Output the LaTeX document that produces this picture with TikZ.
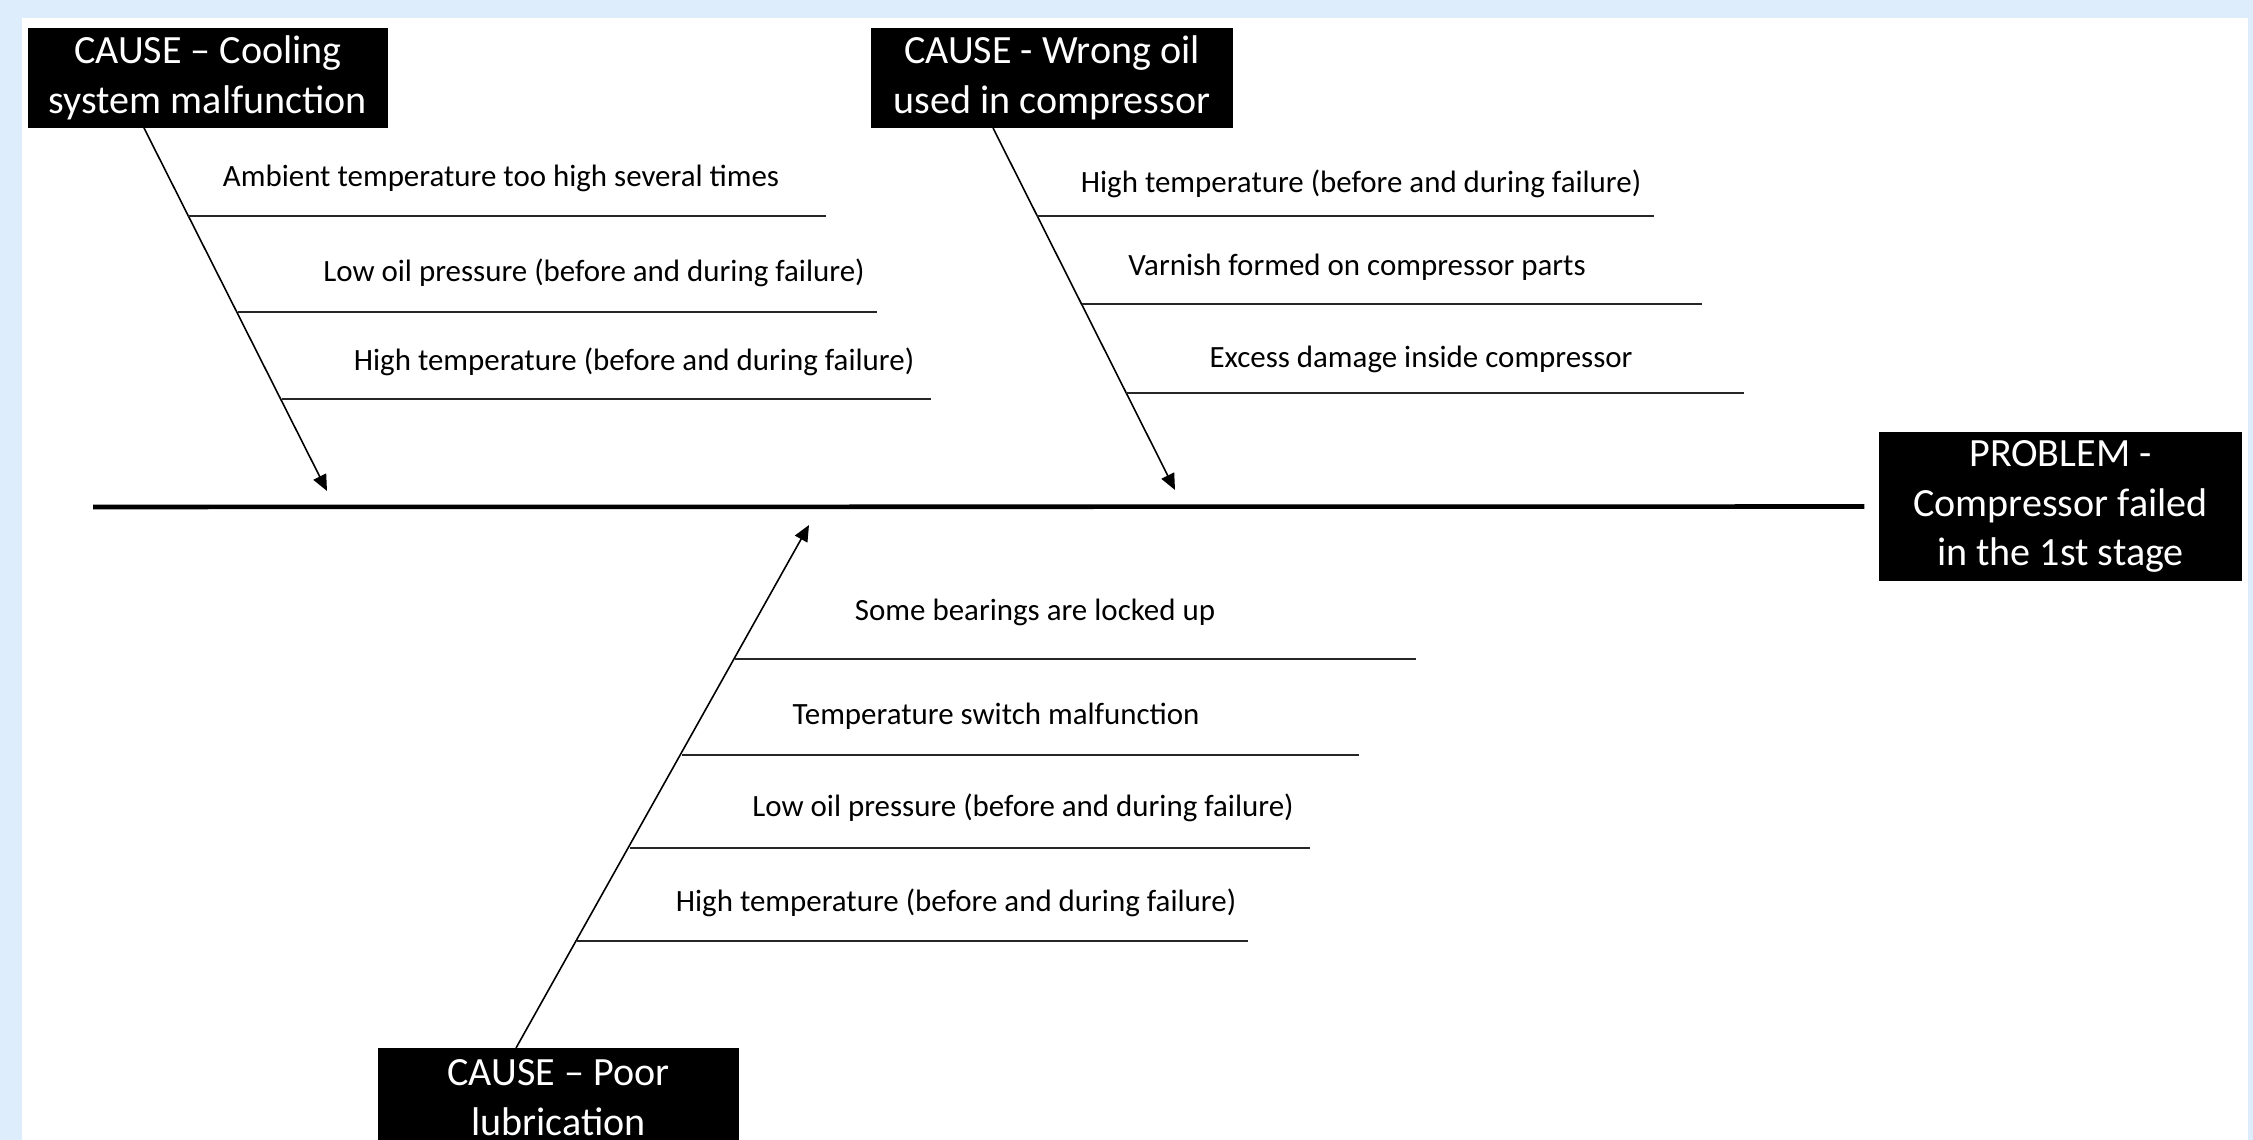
\documentclass[tikz,border=0pt]{standalone}
\usepackage{fontspec}
\setmainfont{Carlito}
\usetikzlibrary{arrows.meta}
\definecolor{paleblue}{RGB}{221,237,252}
\begin{document}
\begin{tikzpicture}[x=0.1mm, y=-0.1mm,
  headbox/.style={fill=black, text=white, align=center, inner sep=0pt,
    font=\fontsize{11.4}{14.2}\selectfont},
  cause/.style={font=\fontsize{8.8}{10.6}\selectfont, inner sep=0pt},
  rib/.style={line width=0.5pt, draw=black!85},
  bone/.style={line width=0.45pt, -{Triangle[length=4.6pt,width=4pt]}}]
% Background
\fill[paleblue] (0,0) rectangle (2253,1140);
\fill[white] (22,18) rectangle (2248,1140);
\useasboundingbox (0,0) rectangle (2253,1140);

% Heads
\node[headbox, minimum width=36mm, minimum height=10mm] (cool) at (208,78) {CAUSE -- Cooling\\system malfunction};
\node[headbox, minimum width=36.2mm, minimum height=10mm] (oil) at (1052,78) {CAUSE - Wrong oil\\used in compressor};
\node[headbox, minimum width=36.1mm, minimum height=10mm] (lube) at (558.5,1098) {CAUSE -- Poor\\lubrication};
\node[headbox, minimum width=36.3mm, minimum height=14.9mm] (prob) at (2060.5,506.5) {PROBLEM -\\Compressor failed\\in the 1st stage};

% Spine
\coordinate (tail) at (93,507);
\draw[line width=1.3pt] (tail) -- ([xshift=-1.4mm]prob.west);

% Bones
\coordinate (coolfoot) at (144,128);
\coordinate (cooltip) at (327,491);
\coordinate (oilfoot) at (993,128);
\coordinate (oiltip) at (1175,490);
\coordinate (lubefoot) at (516,1048);
\coordinate (lubetip) at (809,525);
\draw[bone] (coolfoot) -- (cooltip);
\draw[bone] (oilfoot) -- (oiltip);
\draw[bone] (lubefoot) -- (lubetip);

% Ribs - cooling
\draw[rib] (188,216) -- (826,216);
\draw[rib] (238,312) -- (877,312);
\draw[rib] (282,399) -- (931,399);
\node[cause] (c1) at (501,178) {Ambient temperature too high several times};
\node[cause] (c2) at (594,273) {Low oil pressure (before and during failure)};
\node[cause] (c3) at (634,362) {High temperature (before and during failure)};

% Ribs - oil
\draw[rib] (1037,216) -- (1654,216);
\draw[rib] (1082,304) -- (1702,304);
\draw[rib] (1126,393) -- (1744,393);
\node[cause] (o1) at (1361,184) {High temperature (before and during failure)};
\node[cause] (o2) at (1357,267) {Varnish formed on compressor parts};
\node[cause] (o3) at (1421,359) {Excess damage inside compressor};

% Ribs - lubrication
\draw[rib] (735,659) -- (1416,659);
\draw[rib] (682,755) -- (1359,755);
\draw[rib] (630,848) -- (1310,848);
\draw[rib] (577,941) -- (1248,941);
\node[cause] (l1) at (1035,612) {Some bearings are locked up};
\node[cause] (l2) at (996,716) {Temperature switch malfunction};
\node[cause] (l3) at (1023,808) {Low oil pressure (before and during failure)};
\node[cause] (l4) at (956,903) {High temperature (before and during failure)};
\end{tikzpicture}
\end{document}
